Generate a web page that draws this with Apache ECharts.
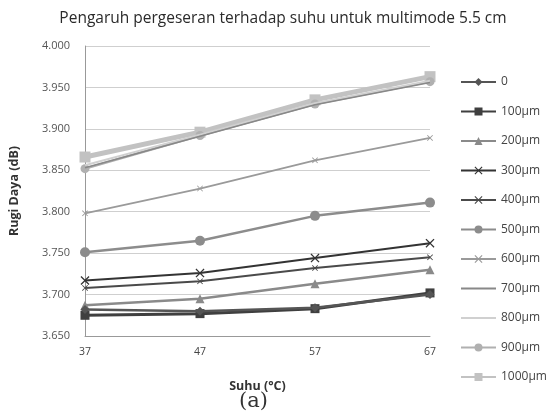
<!DOCTYPE html>
<html><head><meta charset="utf-8">
<script src="https://cdn.jsdelivr.net/npm/echarts@6/dist/echarts.min.js"></script>
<style>html,body{margin:0;padding:0;background:#fff}#c{width:549px;height:416px}</style>
</head><body><div id="c"></div>
<script>
const categories = ['37', '47', '57', '67'];
const seriesNames = ['0', '100µm', '200µm', '300µm', '400µm', '500µm', '600µm', '700µm', '800µm', '900µm', '1000µm'];
const s0    = [3.682, 3.680, 3.684, 3.700];
const s100  = [3.675, 3.677, 3.683, 3.702];
const s200  = [3.687, 3.695, 3.713, 3.730];
const s300  = [3.717, 3.726, 3.744, 3.762];
const s400  = [3.708, 3.716, 3.732, 3.745];
const s500  = [3.751, 3.765, 3.795, 3.811];
const s600  = [3.798, 3.828, 3.862, 3.889];
const s700  = [3.853, 3.891, 3.929, 3.956];
const s800  = [3.856, 3.893, 3.931, 3.958];
const s900  = [3.852, 3.892, 3.930, 3.957];
const s1000 = [3.866, 3.896, 3.935, 3.963];
const yTicks = [3.650, 3.700, 3.750, 3.800, 3.850, 3.900, 3.950, 4.000];

const cross = 'path://M0,1L1,0L5,4L9,0L10,1L6,5L10,9L9,10L5,6L1,10L0,9L4,5Z';
const styles = [
  {c:'#555555', w:2.5, sym:'diamond', sz:9},
  {c:'#3f3f3f', w:3, sym:'rect', sz:9},
  {c:'#8a8a8a', w:2.5, sym:'triangle', sz:9},
  {c:'#333333', w:2, sym:cross, sz:9},
  {c:'#4a4a4a', w:2, sym:cross, sz:6},
  {c:'#8c8c8c', w:2.5, sym:'circle', sz:10},
  {c:'#9a9a9a', w:1.8, sym:cross, sz:6},
  {c:'#888888', w:1.5, sym:'none', sz:0},
  {c:'#d0d0d0', w:2, sym:'none', sz:0},
  {c:'#b0b0b0', w:2.5, sym:'circle', sz:9},
  {c:'#c2c2c2', w:5, sym:'rect', sz:11}
];
const data = [s0, s100, s200, s300, s400, s500, s600, s700, s800, s900, s1000];

const series = seriesNames.map((n, i) => ({
  name: n, type: 'line', data: data[i],
  symbol: styles[i].sym, symbolSize: styles[i].sz, showSymbol: styles[i].sym !== 'none',
  lineStyle: {color: styles[i].c, width: styles[i].w},
  itemStyle: {color: styles[i].c},
  z: 2 + (10 - i)
}));

const legendData = seriesNames.map((n, i) => styles[i].sym === 'none'
  ? {name: n, itemStyle: {opacity: 0}} : {name: n});

const chart = echarts.init(document.getElementById('c'), null, {renderer: 'canvas'});
chart.setOption({
  animation: false,
  backgroundColor: '#fff',
  title: {
    text: 'Pengaruh pergeseran terhadap suhu untuk multimode 5.5 cm',
    left: 278, top: 6, textAlign: 'center',
    textStyle: {fontFamily: 'Open Sans', fontSize: 15.5, fontWeight: 'normal', color: '#2a2a2a'}
  },
  legend: {
    orient: 'vertical', left: 455, top: 71, itemWidth: 35, itemHeight: 10, itemGap: 17.5,
    data: legendData,
    textStyle: {fontFamily: 'Open Sans', fontSize: 12, color: '#444'}
  },
  grid: {left: 85, right: 119, top: 46, bottom: 80, containLabel: false},
  xAxis: {
    type: 'category', data: categories, boundaryGap: false,
    name: 'Suhu (°C)', nameLocation: 'middle', nameGap: 44,
    nameTextStyle: {fontFamily: 'Open Sans', fontSize: 12.5, fontWeight: 'bold', color: '#333'},
    axisLine: {lineStyle: {color: '#999'}}, axisTick: {show: false},
    axisLabel: {fontFamily: 'Open Sans', fontSize: 10.5, color: '#444', margin: 11},
    splitLine: {show: false}
  },
  yAxis: {
    type: 'value', min: 3.65, max: 4.0, interval: 0.05,
    name: 'Rugi Daya (dB)', nameLocation: 'middle', nameGap: 64, nameRotate: 90,
    nameTextStyle: {fontFamily: 'Open Sans', fontSize: 12.5, fontWeight: 'bold', color: '#333'},
    axisLine: {show: true, lineStyle: {color: '#999'}}, axisTick: {show: false},
    axisLabel: {fontFamily: 'Open Sans', fontSize: 11, color: '#555', margin: 15,
      formatter: v => v.toFixed(3)},
    splitLine: {lineStyle: {color: '#cfcfcf'}}
  },
  graphic: [{type: 'text', left: 239, top: 391,
    style: {text: '(a)', font: '21px "DejaVu Serif"', fill: '#333'}}],
  series: series
});
</script></body></html>
